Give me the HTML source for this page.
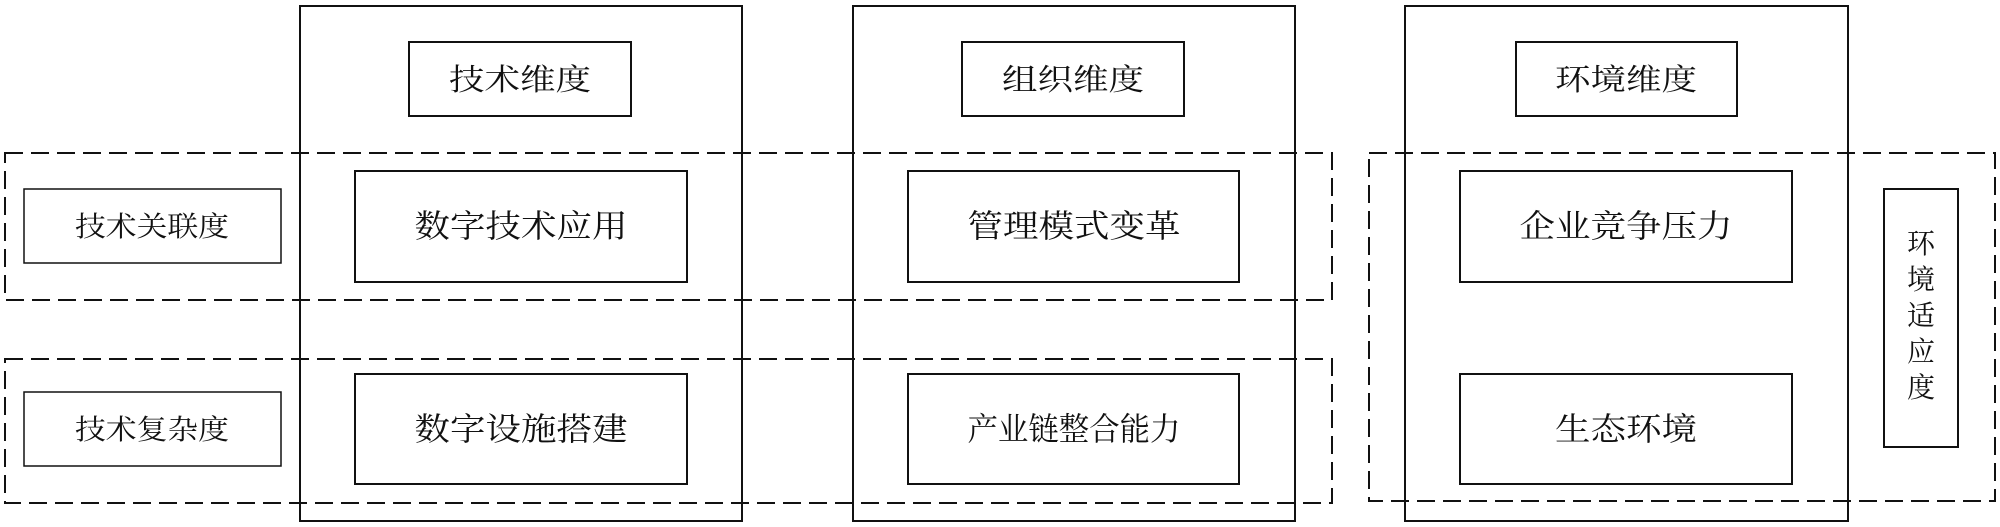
<!DOCTYPE html>
<html><head><meta charset="utf-8"><style>html,body{margin:0;padding:0;background:#fff}svg{display:block}</style></head>
<body>
<svg width="2000" height="527" viewBox="0 0 2000 527" xmlns="http://www.w3.org/2000/svg" font-family="'Liberation Serif','Noto Serif CJK SC',serif" fill="#111">
<g fill="none" stroke="#111" stroke-width="2">
<rect x="300" y="6" width="442" height="515"/>
<rect x="853" y="6" width="442" height="515"/>
<rect x="1405" y="6" width="443" height="515"/>
<rect x="409" y="42" width="222" height="74"/>
<rect x="962" y="42" width="222" height="74"/>
<rect x="1516" y="42" width="221" height="74"/>
<rect x="355" y="171" width="332" height="111"/>
<rect x="355" y="374" width="332" height="110"/>
<rect x="908" y="171" width="331" height="111"/>
<rect x="908" y="374" width="331" height="110"/>
<rect x="1460" y="171" width="332" height="111"/>
<rect x="1460" y="374" width="332" height="110"/>
<rect x="24" y="189" width="257" height="74" stroke-width="1.5"/>
<rect x="24" y="392" width="257" height="74" stroke-width="1.5"/>
<rect x="1884" y="189" width="74" height="258"/>
<g stroke-dasharray="18 8">
<rect x="5" y="153" width="1327" height="147"/>
<rect x="5" y="359" width="1327" height="144"/>
<rect x="1369" y="153" width="626" height="348"/>
</g>
</g>
<g font-size="30" text-anchor="middle" lengthAdjust="spacingAndGlyphs">
<text x="520" y="90" textLength="142" lengthAdjust="spacingAndGlyphs">技术维度</text>
<text x="1073" y="90" textLength="142" lengthAdjust="spacingAndGlyphs">组织维度</text>
<text x="1626" y="90" textLength="142" lengthAdjust="spacingAndGlyphs">环境维度</text>
<text x="521" y="237" font-size="32" textLength="213" lengthAdjust="spacingAndGlyphs">数字技术应用</text>
<text x="521" y="440" font-size="32" textLength="213" lengthAdjust="spacingAndGlyphs">数字设施搭建</text>
<text x="1074" y="237" font-size="32" textLength="213" lengthAdjust="spacingAndGlyphs">管理模式变革</text>
<text x="1074" y="440" font-size="32" textLength="213" lengthAdjust="spacingAndGlyphs">产业链整合能力</text>
<text x="1626" y="237" font-size="32" textLength="213" lengthAdjust="spacingAndGlyphs">企业竞争压力</text>
<text x="1626" y="440" font-size="32" textLength="142" lengthAdjust="spacingAndGlyphs">生态环境</text>
<text x="152" y="236" font-size="28" textLength="154" lengthAdjust="spacingAndGlyphs">技术关联度</text>
<text x="152" y="439" font-size="28" textLength="154" lengthAdjust="spacingAndGlyphs">技术复杂度</text>
<g font-size="28">
<text x="1921" y="253">环</text>
<text x="1921" y="289">境</text>
<text x="1921" y="325">适</text>
<text x="1921" y="361">应</text>
<text x="1921" y="397">度</text>
</g>
</g>
</svg>
</body></html>
